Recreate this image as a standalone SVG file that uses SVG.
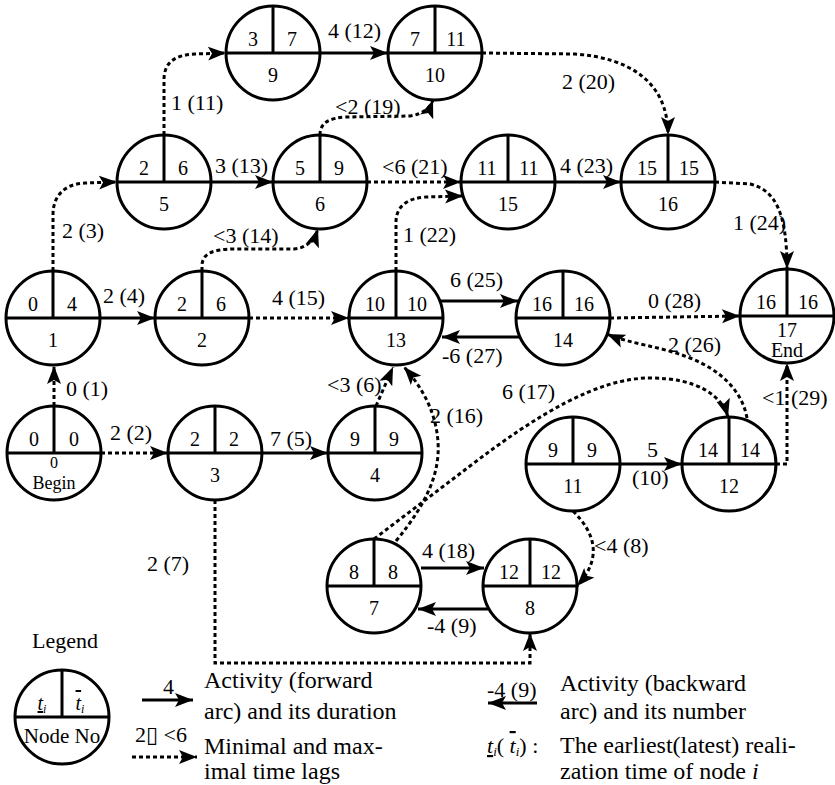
<svg xmlns="http://www.w3.org/2000/svg" width="835" height="785" viewBox="0 0 835 785">
  <defs>
    <marker id="ah" viewBox="0 0 18 16" refX="18" refY="8" markerWidth="18" markerHeight="16" markerUnits="userSpaceOnUse" orient="auto">
      <path d="M0,1 L18,8 L0,15 L4,8 z" fill="#000"/>
    </marker>
  </defs>
  <style>
    text { font-family: 'Liberation Serif', 'DejaVu Serif', serif; fill: #000; }
    .node circle { fill: #fff; stroke: #000; stroke-width: 3; }
    .node line { stroke: #000; stroke-width: 3; }
    .num { font-size: 20px; text-anchor: middle; }
    .lbl { font-size: 22px; }
    .txt { font-size: 24px; }
    .act { fill: none; stroke: #000; stroke-width: 3; marker-end: url(#ah); }
    .lag { fill: none; stroke: #000; stroke-width: 3; stroke-dasharray: 4 3; marker-end: url(#ah); }
  </style>
  <rect width="835" height="785" fill="#fff"/>

  <!-- nodes: earliest | latest over node number -->
  <g id="node-0" class="node"><circle cx="54" cy="453" r="47"/><line x1="7" y1="453" x2="101" y2="453"/><line x1="54" y1="406" x2="54" y2="453"/>
    <text class="num" x="34" y="446">0</text><text class="num" x="74" y="446">0</text>
    <text class="num" x="54" y="468" style="font-size:16px">0</text><text class="num" x="54" y="489" style="font-size:18px">Begin</text></g>
  <g id="node-1" class="node"><circle cx="53" cy="318" r="47"/><line x1="6" y1="318" x2="100" y2="318"/><line x1="53" y1="271" x2="53" y2="318"/>
    <text class="num" x="33" y="311">0</text><text class="num" x="72" y="311">4</text><text class="num" x="53" y="347">1</text></g>
  <g id="node-2" class="node"><circle cx="202" cy="318" r="47"/><line x1="155" y1="318" x2="249" y2="318"/><line x1="202" y1="271" x2="202" y2="318"/>
    <text class="num" x="182" y="311">2</text><text class="num" x="221" y="311">6</text><text class="num" x="202" y="347">2</text></g>
  <g id="node-3" class="node"><circle cx="215" cy="453" r="47"/><line x1="168" y1="453" x2="262" y2="453"/><line x1="215" y1="406" x2="215" y2="453"/>
    <text class="num" x="195" y="446">2</text><text class="num" x="234" y="446">2</text><text class="num" x="215" y="482">3</text></g>
  <g id="node-4" class="node"><circle cx="375" cy="453" r="47"/><line x1="328" y1="453" x2="422" y2="453"/><line x1="375" y1="406" x2="375" y2="453"/>
    <text class="num" x="355" y="446">9</text><text class="num" x="394" y="446">9</text><text class="num" x="375" y="482">4</text></g>
  <g id="node-5" class="node"><circle cx="164" cy="182" r="47"/><line x1="117" y1="182" x2="211" y2="182"/><line x1="164" y1="135" x2="164" y2="182"/>
    <text class="num" x="144" y="175">2</text><text class="num" x="183" y="175">6</text><text class="num" x="164" y="211">5</text></g>
  <g id="node-6" class="node"><circle cx="320" cy="182" r="47"/><line x1="273" y1="182" x2="367" y2="182"/><line x1="320" y1="135" x2="320" y2="182"/>
    <text class="num" x="300" y="175">5</text><text class="num" x="339" y="175">9</text><text class="num" x="320" y="211">6</text></g>
  <g id="node-7" class="node"><circle cx="374" cy="586" r="47"/><line x1="327" y1="586" x2="421" y2="586"/><line x1="374" y1="539" x2="374" y2="586"/>
    <text class="num" x="354" y="579">8</text><text class="num" x="393" y="579">8</text><text class="num" x="374" y="615">7</text></g>
  <g id="node-8" class="node"><circle cx="530" cy="586" r="47"/><line x1="483" y1="586" x2="577" y2="586"/><line x1="530" y1="539" x2="530" y2="586"/>
    <text class="num" x="509" y="579">12</text><text class="num" x="551" y="579">12</text><text class="num" x="530" y="615">8</text></g>
  <g id="node-9" class="node"><circle cx="273" cy="53" r="47"/><line x1="226" y1="53" x2="320" y2="53"/><line x1="273" y1="6" x2="273" y2="53"/>
    <text class="num" x="253" y="46">3</text><text class="num" x="292" y="46">7</text><text class="num" x="273" y="82">9</text></g>
  <g id="node-10" class="node"><circle cx="435" cy="53" r="47"/><line x1="388" y1="53" x2="482" y2="53"/><line x1="435" y1="6" x2="435" y2="53"/>
    <text class="num" x="415" y="46">7</text><text class="num" x="456" y="46">11</text><text class="num" x="435" y="82">10</text></g>
  <g id="node-11" class="node"><circle cx="573" cy="464" r="47"/><line x1="526" y1="464" x2="620" y2="464"/><line x1="573" y1="417" x2="573" y2="464"/>
    <text class="num" x="553" y="457">9</text><text class="num" x="592" y="457">9</text><text class="num" x="573" y="493">11</text></g>
  <g id="node-12" class="node"><circle cx="729" cy="464" r="47"/><line x1="682" y1="464" x2="776" y2="464"/><line x1="729" y1="417" x2="729" y2="464"/>
    <text class="num" x="708" y="457">14</text><text class="num" x="750" y="457">14</text><text class="num" x="729" y="493">12</text></g>
  <g id="node-13" class="node"><circle cx="396" cy="318" r="47"/><line x1="349" y1="318" x2="443" y2="318"/><line x1="396" y1="271" x2="396" y2="318"/>
    <text class="num" x="375" y="311">10</text><text class="num" x="417" y="311">10</text><text class="num" x="396" y="347">13</text></g>
  <g id="node-14" class="node"><circle cx="563" cy="318" r="47"/><line x1="516" y1="318" x2="610" y2="318"/><line x1="563" y1="271" x2="563" y2="318"/>
    <text class="num" x="542" y="311">16</text><text class="num" x="584" y="311">16</text><text class="num" x="563" y="347">14</text></g>
  <g id="node-15" class="node"><circle cx="508" cy="182" r="47"/><line x1="461" y1="182" x2="555" y2="182"/><line x1="508" y1="135" x2="508" y2="182"/>
    <text class="num" x="487" y="175">11</text><text class="num" x="529" y="175">11</text><text class="num" x="508" y="211">15</text></g>
  <g id="node-16" class="node"><circle cx="668" cy="182" r="47"/><line x1="621" y1="182" x2="715" y2="182"/><line x1="668" y1="135" x2="668" y2="182"/>
    <text class="num" x="647" y="175">15</text><text class="num" x="689" y="175">15</text><text class="num" x="668" y="211">16</text></g>
  <g id="node-17" class="node"><circle cx="787" cy="316" r="47"/><line x1="740" y1="316" x2="834" y2="316"/><line x1="787" y1="269" x2="787" y2="316"/>
    <text class="num" x="766" y="309">16</text><text class="num" x="808" y="309">16</text>
    <text class="num" x="787" y="337">17</text><text class="num" x="787" y="357">End</text></g>

  <!-- connectors: solid = activity, dashed = time lag -->
  <g id="connectors">
    <path class="lag" d="M54,406 L54,366"/>
    <text class="lbl" x="66" y="396">0  (1)</text>
    <path class="lag" d="M101,453 L168,453"/>
    <text class="lbl" x="110" y="440">2  (2)</text>
    <path class="lag" d="M53,271 L53,215 C53,195 65,184 85,183 L117,182"/>
    <text class="lbl" x="62" y="238">2  (3)</text>
    <path class="act" d="M100,318 L155,318"/>
    <text class="lbl" x="103" y="303">2  (4)</text>
    <path class="act" d="M262,453 L328,453"/>
    <text class="lbl" x="270" y="446">7 (5)</text>
    <path class="lag" d="M376,406 L393,367"/>
    <text class="lbl" x="327" y="392">&lt;3 (6)</text>
    <path class="lag" d="M215,500 L215,663 L530,663 L530,633"/>
    <text class="lbl" x="147" y="571">2  (7)</text>
    <path class="lag" d="M573,511 C595,533 603,558 577,586"/>
    <text class="lbl" x="594" y="553">&lt;4  (8)</text>
    <path class="act" d="M488,609 L418,609"/>
    <text class="lbl" x="427" y="633">-4 (9)</text>
    <path class="act" d="M620,464 L682,464"/>
    <text class="lbl" x="647" y="457">5</text>
    <text class="lbl" x="632" y="485">(10)</text>
    <path class="lag" d="M164,135 L164,80 C164,62 175,55 195,54 L226,53"/>
    <text class="lbl" x="171" y="110">1 (11)</text>
    <path class="act" d="M320,53 L388,53"/>
    <text class="lbl" x="328" y="38">4 (12)</text>
    <path class="act" d="M211,182 L273,182"/>
    <text class="lbl" x="215" y="173">3 (13)</text>
    <path class="lag" d="M202,271 L202,266 C202,253 214,249 235,249 L294,249 C306,248 314,241 318,229"/>
    <text class="lbl" x="213" y="243">&lt;3  (14)</text>
    <path class="lag" d="M249,318 L349,318"/>
    <text class="lbl" x="272" y="305">4 (15)</text>
    <path class="lag" d="M396,541 C428,502 440,472 438,442 C436,412 422,387 404,367"/>
    <text class="lbl" x="430" y="423">2 (16)</text>
    <path class="lag" d="M374,539 L470,466 C538,414 598,378 650,378 C698,378 722,396 728,417"/>
    <text class="lbl" x="502" y="399">6 (17)</text>
    <path class="act" d="M421,568 L484,568"/>
    <text class="lbl" x="422" y="558">4 (18)</text>
    <path class="lag" d="M320,135 C320,122 330,118 346,117 L410,116 C423,114 430,108 433,100"/>
    <text class="lbl" x="335" y="114">&lt;2  (19)</text>
    <path class="lag" d="M482,53 L575,54 C630,58 668,82 668,135"/>
    <text class="lbl" x="562" y="89">2 (20)</text>
    <path class="lag" d="M367,182 L461,182"/>
    <text class="lbl" x="382" y="174">&lt;6 (21)</text>
    <path class="lag" d="M396,271 L396,222 C396,206 408,198 426,197 L463,196"/>
    <text class="lbl" x="403" y="242">1 (22)</text>
    <path class="act" d="M555,182 L621,182"/>
    <text class="lbl" x="560" y="173">4 (23)</text>
    <path class="lag" d="M715,182 L750,184 C775,190 787,212 787,269"/>
    <text class="lbl" x="733" y="230">1 (24)</text>
    <path class="act" d="M441,301 L518,301"/>
    <text class="lbl" x="450" y="287">6 (25)</text>
    <path class="lag" d="M747,418 C742,390 720,370 690,358 C660,346 630,344 607,334"/>
    <text class="lbl" x="668" y="352">2 (26)</text>
    <path class="act" d="M519,337 L442,337"/>
    <text class="lbl" x="442" y="363">-6  (27)</text>
    <path class="lag" d="M610,318 L740,316"/>
    <text class="lbl" x="648" y="308">0 (28)</text>
    <path class="lag" d="M776,464 L787,464 L787,363"/>
    <text class="lbl" x="762" y="405">&lt;1 (29)</text>
  </g>

  <!-- legend -->
  <g id="legend">
    <text class="lbl" x="32" y="648">Legend</text>
    <g id="legend-node" class="node"><circle cx="62" cy="717" r="47"/><line x1="15" y1="717" x2="109" y2="717"/><line x1="62" y1="670" x2="62" y2="717"/>
      <text class="num" x="42" y="710"><tspan font-style="italic" text-decoration="underline">t</tspan><tspan font-style="italic" font-size="12" dy="3">i</tspan></text>
      <text class="num" x="80" y="710"><tspan font-style="italic" text-decoration="overline">t</tspan><tspan font-style="italic" font-size="12" dy="3">i</tspan></text>
      <text class="num" x="62" y="743" style="font-size:21px">Node No</text></g>
    <path class="act" d="M142,700 L193,700"/>
    <text class="lbl" x="163" y="694">4</text>
    <text class="txt" x="204" y="688">Activity (forward</text>
    <text class="txt" x="204" y="719">arc) and its duration</text>
    <text class="lbl" x="135" y="742">2▯  &lt;6</text>
    <path class="lag" d="M132,757 L197,757"/>
    <text class="txt" x="204" y="754">Minimal and max-</text>
    <text class="txt" x="204" y="779">imal time lags</text>
    <path class="act" d="M537,703 L488,703"/>
    <text class="lbl" x="487" y="697">-4 (9)</text>
    <text class="txt" x="560" y="691">Activity (backward</text>
    <text class="txt" x="560" y="719">arc) and its number</text>
    <text class="lbl" x="487" y="753"><tspan font-style="italic" text-decoration="underline">t</tspan><tspan font-style="italic" font-size="13" dy="3">i</tspan><tspan dy="-3">( </tspan><tspan font-style="italic" text-decoration="overline">t</tspan><tspan font-style="italic" font-size="13" dy="3">i</tspan><tspan dy="-3">) :</tspan></text>
    <text class="txt" x="560" y="753">The earliest(latest) reali-</text>
    <text class="txt" x="560" y="779">zation time of node <tspan font-style="italic">i</tspan></text>
  </g>
</svg>
